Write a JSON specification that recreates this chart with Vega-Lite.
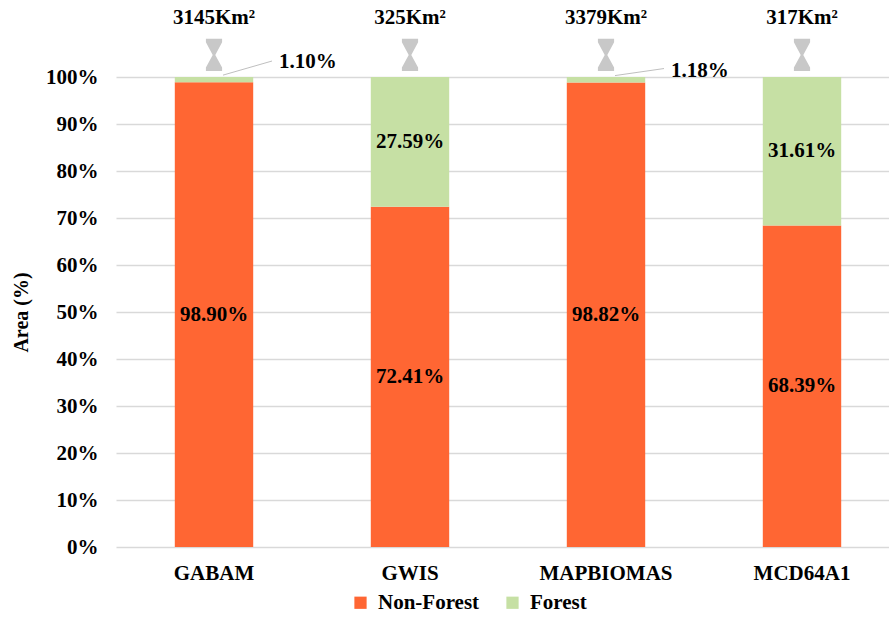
{
  "$schema": "https://vega.github.io/schema/vega-lite/v6.json",
  "width": 773,
  "height": 470,
  "autosize": "none",
  "padding": {"left": 116, "top": 77, "right": 0, "bottom": 71},
  "background": "white",
  "config": {
    "view": {"stroke": null},
    "font": "Liberation Serif",
    "axis": {"labelFont": "Liberation Serif", "titleFont": "Liberation Serif"}
  },
  "datasets": {
    "bars": [
      {"source": "GABAM", "cls": "Non-Forest", "ord": 1, "value": 98.90, "label": "98.90%"},
      {"source": "GABAM", "cls": "Forest", "ord": 2, "value": 1.10, "label": ""},
      {"source": "GWIS", "cls": "Non-Forest", "ord": 1, "value": 72.41, "label": "72.41%"},
      {"source": "GWIS", "cls": "Forest", "ord": 2, "value": 27.59, "label": "27.59%"},
      {"source": "MAPBIOMAS", "cls": "Non-Forest", "ord": 1, "value": 98.82, "label": "98.82%"},
      {"source": "MAPBIOMAS", "cls": "Forest", "ord": 2, "value": 1.18, "label": ""},
      {"source": "MCD64A1", "cls": "Non-Forest", "ord": 1, "value": 68.39, "label": "68.39%"},
      {"source": "MCD64A1", "cls": "Forest", "ord": 2, "value": 31.61, "label": "31.61%"}
    ],
    "totals": [
      {"source": "GABAM", "area": "3145Km²"},
      {"source": "GWIS", "area": "325Km²"},
      {"source": "MAPBIOMAS", "area": "3379Km²"},
      {"source": "MCD64A1", "area": "317Km²"}
    ],
    "small": [
      {"source": "GABAM", "label": "1.10%", "y1": 100.4, "y2": 103.4, "ty": 103.2},
      {"source": "MAPBIOMAS", "label": "1.18%", "y1": 100.3, "y2": 101.8, "ty": 101.2}
    ]
  },
  "encoding": {
    "x": {
      "field": "source",
      "type": "nominal",
      "sort": ["GABAM", "GWIS", "MAPBIOMAS", "MCD64A1"],
      "scale": {"range": [0, 784], "paddingInner": 0.6, "paddingOuter": 0.3},
      "axis": {
        "title": null,
        "labelAngle": 0,
        "labelFont": "Liberation Serif",
        "labelFontSize": 21,
        "labelFontWeight": "bold",
        "labelColor": "black",
        "labelPadding": 15,
        "ticks": false,
        "domain": false
      }
    }
  },
  "layer": [
    {
      "data": {"name": "bars"},
      "mark": {"type": "bar"},
      "encoding": {
        "y": {
          "field": "value",
          "type": "quantitative",
          "stack": "zero",
          "scale": {"domain": [0, 100], "nice": false},
          "axis": {
            "values": [0, 10, 20, 30, 40, 50, 60, 70, 80, 90, 100],
            "labelExpr": "datum.value + '%'",
            "title": "Area (%)",
            "titleFont": "Liberation Serif",
            "titleFontSize": 20,
            "titleFontWeight": "bold",
            "titleColor": "black",
            "titlePadding": 14,
            "labelFont": "Liberation Serif",
            "labelFontSize": 21,
            "labelFontWeight": "bold",
            "labelColor": "black",
            "labelPadding": 18,
            "ticks": false,
            "domain": false,
            "grid": true,
            "gridColor": "#d9d9d9",
            "gridWidth": 1.5
          }
        },
        "color": {
          "field": "cls",
          "type": "nominal",
          "sort": ["Non-Forest", "Forest"],
          "scale": {"domain": ["Non-Forest", "Forest"], "range": ["#FF6633", "#C6E0A4"]},
          "legend": {
            "title": null,
            "orient": "none",
            "legendX": 234,
            "legendY": 515,
            "direction": "horizontal",
            "symbolType": "square",
            "symbolSize": 150,
            "symbolStrokeWidth": 0,
            "labelFont": "Liberation Serif",
            "labelFontSize": 21,
            "labelFontWeight": "bold",
            "labelColor": "black",
            "labelOffset": 7,
            "columnPadding": 22
          }
        },
        "order": {"field": "ord", "type": "quantitative"}
      }
    },
    {
      "data": {"name": "bars"},
      "transform": [
        {"stack": "value", "groupby": ["source"], "sort": [{"field": "ord"}], "as": ["y0", "y1"]},
        {"calculate": "(datum.y0 + datum.y1) / 2", "as": "mid"}
      ],
      "mark": {"type": "text", "font": "Liberation Serif", "fontSize": 21, "fontWeight": "bold", "color": "black", "baseline": "middle"},
      "encoding": {
        "y": {"field": "mid", "type": "quantitative"},
        "text": {"field": "label"}
      }
    },
    {
      "data": {"name": "totals"},
      "mark": {
        "type": "point",
        "shape": "M-0.5,-1 L0.5,-1 L0.5,-0.78 L0.08,0 L0.5,0.78 L0.5,1 L-0.5,1 L-0.5,0.78 L-0.08,0 L-0.5,-0.78 Z",
        "size": 1050,
        "filled": true,
        "color": "#c8c8c8",
        "opacity": 1,
        "clip": false
      },
      "encoding": {
        "y": {"datum": 104.7, "type": "quantitative"}
      }
    },
    {
      "data": {"name": "totals"},
      "mark": {"type": "text", "font": "Liberation Serif", "fontSize": 21, "fontWeight": "bold", "color": "black", "baseline": "middle", "clip": false},
      "encoding": {
        "y": {"datum": 112.6, "type": "quantitative"},
        "text": {"field": "area"}
      }
    },
    {
      "data": {"name": "small"},
      "mark": {"type": "rule", "color": "#bfbfbf", "strokeWidth": 1, "xOffset": 9, "x2Offset": 58, "clip": false},
      "encoding": {
        "x2": {"field": "source"},
        "y": {"field": "y1", "type": "quantitative"},
        "y2": {"field": "y2"}
      }
    },
    {
      "data": {"name": "small"},
      "mark": {"type": "text", "font": "Liberation Serif", "fontSize": 21, "fontWeight": "bold", "color": "black", "align": "left", "baseline": "middle", "dx": 65, "clip": false},
      "encoding": {
        "y": {"field": "ty", "type": "quantitative"},
        "text": {"field": "label"}
      }
    }
  ]
}
